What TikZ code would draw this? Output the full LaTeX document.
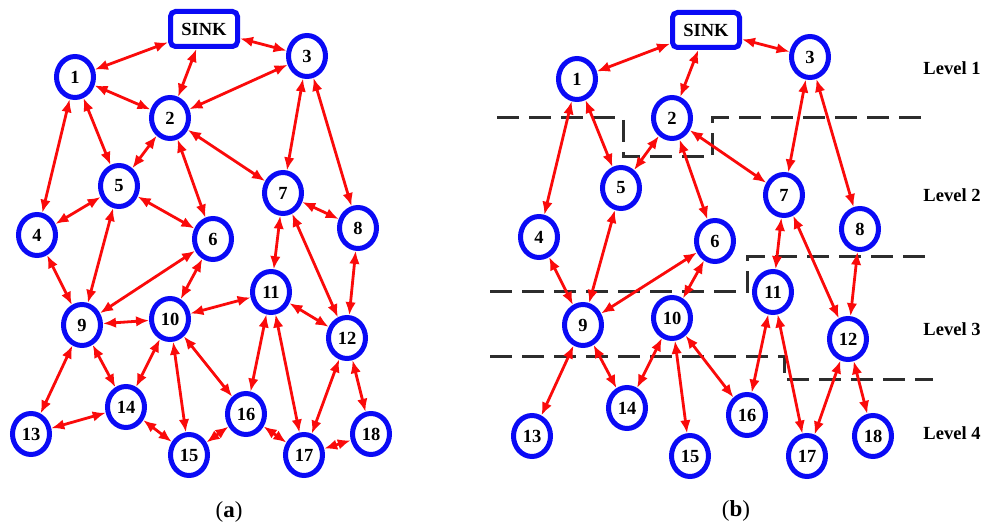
\documentclass[tikz,border=0pt]{standalone}
\usepackage{fontspec}
\setmainfont{Liberation Serif}
\usetikzlibrary{arrows.meta,shapes.geometric}
\definecolor{nblue}{RGB}{10,10,245}
\definecolor{lred}{RGB}{250,10,10}
\definecolor{dgray}{RGB}{45,45,45}
\begin{document}
\begin{tikzpicture}[x=1pt,y=-1pt,
  nd/.style={ellipse,draw=nblue,line width=5pt,minimum width=37pt,minimum height=41pt,inner sep=0pt,fill=white,font=\fontsize{18.5}{20}\selectfont\bfseries},
  sinkbox/.style={rectangle,rounded corners=5pt,draw=nblue,line width=5pt,minimum width=67pt,minimum height=35pt,inner sep=0pt,fill=white,font=\fontsize{18.5}{20}\selectfont\bfseries},
  lk/.style={draw=lred,line width=2.8pt,{Latex[length=13pt,width=10.5pt]}-{Latex[length=13pt,width=10.5pt]}},
  lvline/.style={draw=dgray,line width=3pt,dash pattern=on 22pt off 10pt},
  lvlabel/.style={font=\fontsize{18.5}{20}\selectfont\bfseries,inner sep=0pt},
  captext/.style={font=\fontsize{23}{25}\selectfont,inner sep=0pt}
]
\useasboundingbox (0,0) rectangle (983,529);
% ---------- panel (a) ----------
\node[sinkbox] (a0) at (204,29) {SINK};
\foreach \n/\x/\y in {1/75/77,2/170/118,3/307/56,4/37/235,5/119/186,6/213/239,7/283/193,8/358/228,9/82/325,10/170/319,11/271/292,12/347/338,13/31/434,14/126/407,15/189/455,16/246/414,17/304/455,18/371/434}
  \node[nd] (a\n) at (\x,\y) {\n};
\foreach \u/\v in {0/1,0/2,0/3,1/2,3/2,1/4,1/5,2/5,2/6,2/7,3/7,3/8,5/4,5/6,7/8,4/9,5/9,6/9,6/10,7/11,7/12,8/12,9/10,10/11,11/12,9/13,9/14,10/14,10/15,10/16,11/16,11/17,12/17,12/18,13/14,14/15,15/16,16/17,17/18}
  \draw[lk] (a\u) -- (a\v);
\node[captext] (capa) at (229,512) {(\textbf{a})};
% ---------- panel (b) ----------
\draw[lvline] (497,118) -- (623,118) -- (623,157) -- (712,157) -- (712,118) -- (925,118);
\draw[lvline] (490,292) -- (747,292) -- (747,257) -- (927,257);
\draw[lvline] (490,357) -- (784,357) -- (784,380) -- (933,380);
\node[sinkbox] (b0) at (706,30) {SINK};
\foreach \n/\x/\y in {1/577/79,2/672/118,3/810/57,4/539/237,5/621/188,6/715/241,7/784/195,8/860/229,9/583/325,10/672/318,11/773/292,12/848/339,13/532/436,14/627/408,15/690/456,16/747/415,17/807/456,18/873/436}
  \node[nd] (b\n) at (\x,\y) {\n};
\foreach \u/\v in {0/1,0/2,0/3,1/4,1/5,2/5,2/6,2/7,3/7,3/8,4/9,5/9,6/9,6/10,7/11,7/12,8/12,9/13,9/14,10/14,10/15,10/16,11/16,11/17,12/17,12/18}
  \draw[lk] (b\u) -- (b\v);
\node[lvlabel] (lv1) at (952,68) {Level 1};
\node[lvlabel] (lv2) at (952,195) {Level 2};
\node[lvlabel] (lv3) at (952,329) {Level 3};
\node[lvlabel] (lv4) at (952,433) {Level 4};
\node[captext] (capb) at (736,511) {(\textbf{b})};
\end{tikzpicture}
\end{document}
